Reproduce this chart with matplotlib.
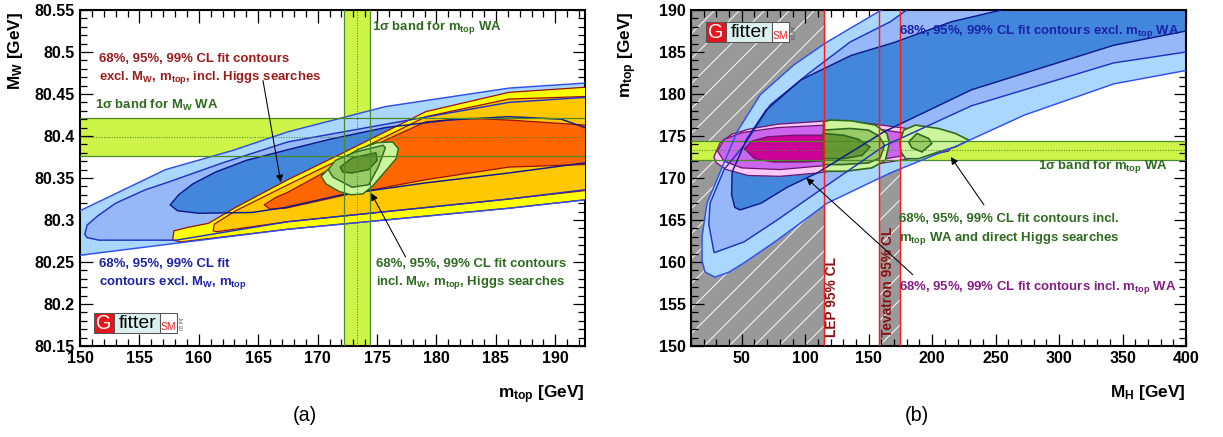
import matplotlib
matplotlib.use('Agg')
import matplotlib.pyplot as plt
from matplotlib.patches import Polygon, Rectangle
from matplotlib.ticker import MultipleLocator, FuncFormatter

plt.rcParams['font.family'] = ['Liberation Sans', 'DejaVu Sans']
plt.rcParams['font.weight'] = 'bold'
plt.rcParams['axes.labelweight'] = 'bold'
plt.rcParams['mathtext.fontset'] = 'custom'
plt.rcParams['mathtext.rm'] = 'Liberation Sans:bold'
plt.rcParams['mathtext.bf'] = 'Liberation Sans:bold'
plt.rcParams['mathtext.it'] = 'Liberation Sans:bold'
plt.rcParams['hatch.color'] = 'white'
plt.rcParams['hatch.linewidth'] = 0.45

# %% world averages / limits
mtop_wa = 173.3
mtop_err = 1.1
mw_wa = 80.399
mw_err = 0.023
lep_limit = 114.4
tev_limits = [158, 175]

# %% panel (a): M_W vs m_top, contours excl. M_W, m_top (blue)
a_blue99_x = [147, 150, 157.2, 162.9, 167.5, 175.7, 186.1, 192.5, 196, 196, 192.5, 186.1, 167.5, 150, 147]
a_blue99_y = [80.29, 80.311, 80.360, 80.383, 80.405, 80.435, 80.457, 80.463, 80.465,
              80.32, 80.324, 80.314, 80.289, 80.258, 80.253]
a_blue95_x = [150.4, 150.6, 151.5, 153, 155.5, 157.2, 162, 167.5, 175.7, 186.1, 192.5, 196,
              196, 192.5, 186.1, 167.5, 158.1, 151.6, 150.6]
a_blue95_y = [80.283, 80.294, 80.305, 80.320, 80.336, 80.344, 80.368, 80.393, 80.414, 80.440, 80.446, 80.447,
              80.33, 80.336, 80.325, 80.298, 80.276, 80.276, 80.279]
a_blue68_x = [157.6, 158.3, 159.5, 161.4, 164, 167.3, 171, 175.7, 181, 186.1, 190.5, 192.5, 193.5,
              192.5, 186.1, 179, 172, 167.3, 164.5, 160, 158.2]
a_blue68_y = [80.318, 80.330, 80.343, 80.357, 80.371, 80.383, 80.396, 80.410, 80.419, 80.423, 80.420, 80.41, 80.39,
              80.368, 80.356, 80.344, 80.330, 80.315, 80.309, 80.308, 80.311]

# contours excl. M_W, m_top, incl. Higgs searches (yellow / orange)
a_or99_x = [157.8, 157.9, 159, 160.8, 163.1, 167.5, 172, 179.1, 186.1, 192.5, 195,
            195, 192.5, 186.1, 167.5, 158.5]
a_or99_y = [80.276, 80.287, 80.291, 80.296, 80.315, 80.348, 80.379, 80.429, 80.452, 80.458, 80.46,
            80.32, 80.324, 80.314, 80.289, 80.274]
a_or95_x = [161.2, 161.3, 163.1, 167.5, 172, 179.1, 186.1, 192.5, 195,
            195, 192.5, 186.1, 167.5, 161.5]
a_or95_y = [80.287, 80.295, 80.311, 80.342, 80.373, 80.423, 80.444, 80.447, 80.45,
            80.33, 80.335, 80.325, 80.298, 80.286]
a_or68_x = [165.5, 166.5, 167.5, 172, 175.7, 179.1, 182.8, 186.1, 192.5, 194,
            192.5, 186.1, 179.1, 172.4, 167.3, 166]
a_or68_y = [80.318, 80.327, 80.333, 80.368, 80.395, 80.417, 80.421, 80.419, 80.413, 80.39,
            80.366, 80.363, 80.348, 80.330, 80.314, 80.313]

# full fit incl. M_W, m_top, Higgs searches (green)
a_gr99_x = [170.3, 171.0, 172.0, 173.4, 175.0, 176.3, 176.8, 176.6, 175.7, 174.6, 173.8, 172.8, 171.8, 170.7]
a_gr99_y = [80.352, 80.362, 80.372, 80.384, 80.392, 80.393, 80.385, 80.373, 80.358, 80.340, 80.331, 80.330, 80.334, 80.343]
a_gr95_x = [170.9, 171.5, 173.2, 175.5, 175.7, 175.1, 174.3, 172.9, 171.3]
a_gr95_y = [80.36, 80.371, 80.381, 80.389, 80.386, 80.363, 80.342, 80.339, 80.351]
a_gr68_x = [171.9, 172.9, 174.9, 175.0, 174.3, 172.9, 172.1]
a_gr68_y = [80.363, 80.374, 80.380, 80.371, 80.360, 80.356, 80.357]

# %% panel (b): m_top vs M_H
b_blue99_x = [21, 28.9, 40, 51.8, 77.9, 117.3, 167, 220.7, 272.8, 343, 400, 420,
              420, 230, 200, 160, 117.3, 91.3, 64.5, 46.3, 32.9, 22.6, 18.7, 18.7]
b_blue99_y = [158.8, 158.2, 158.8, 159.9, 162.6, 167.0, 170.6, 173.9, 177.5, 181.2, 182.8, 183.5,
              210, 210, 194, 190, 186.2, 183.5, 179.9, 175.5, 170.7, 167.0, 163.0, 160.2]
b_blue95_x = [28.2, 51.8, 77.9, 115, 162, 231, 343, 400, 420,
              420, 200, 180, 167, 135.5, 104, 72.4, 51.8, 36, 25, 24]
b_blue95_y = [161.1, 162.4, 165, 168.9, 173.8, 178.6, 183.7, 185, 185.5,
              210, 210, 190, 188.6, 186.2, 182.6, 178.7, 173.9, 171, 167, 164.5]
b_blue68_x = [48.7, 65.2, 85.8, 109.4, 162, 231, 343, 400, 420,
              420, 280, 254.7, 215.2, 169.4, 136.3, 96.8, 69.2, 53.4, 42.4, 42, 44.5]
b_blue68_y = [166.2, 167.0, 168.9, 170.6, 175.5, 180.5, 185.8, 187.5, 188,
              210, 210, 190, 188.6, 186.1, 184.6, 181.7, 178.1, 174.5, 170.7, 168, 166.5]

b_mag99_x = [28, 33, 42, 55, 78, 117, 150, 185, 210, 218, 213, 190, 150, 110, 80, 55, 38, 30]
b_mag99_y = [172.5, 174.2, 175.2, 175.8, 176.4, 176.8, 176.5, 175.8, 175, 174.2, 173.2, 172.5, 171.5, 170.6,
             170.2, 170.3, 171, 171.8]
b_mag95_x = [31, 36, 50, 78, 117, 150, 180, 195, 190, 160, 117, 80, 50, 36]
b_mag95_y = [173.2, 174.6, 175.4, 176.0, 176.3, 176.0, 175.3, 174.3, 173.0, 172.2, 171.5, 171.0, 171.2, 172]
b_mag68_x = [52, 58, 70, 92, 117, 140, 155, 150, 130, 100, 75, 60]
b_mag68_y = [173.5, 174.4, 174.9, 175.1, 175.1, 174.8, 174.0, 173.0, 172.2, 171.9, 171.9, 172.3]

b_grA99_x = [114.4, 120, 136.7, 155.2, 164.4, 166.3, 163.1, 152.5, 131.5, 114.4]
b_grA99_y = [176.7, 176.9, 176.8, 176.3, 175.3, 174.1, 172.1, 171.2, 170.8, 170.8]
b_grA95_x = [114.4, 135, 150, 158, 162.5, 159, 150, 130, 114.4]
b_grA95_y = [175.7, 175.9, 175.7, 175.0, 173.9, 172.4, 171.8, 171.6, 171.6]
b_grA68_x = [114.4, 130, 142, 151, 145, 130, 114.4]
b_grA68_y = [175.3, 175.1, 174.6, 173.7, 172.7, 172.3, 172.3]
b_grB99_x = [174.5, 177.6, 186.8, 205, 218.4, 229, 218.4, 205, 189.4, 179, 175.5]
b_grB99_y = [174.3, 175.7, 176.3, 175.9, 175.3, 174.5, 173.7, 173.1, 172.3, 172.3, 173.1]
b_grB95_x = [181.5, 188, 197.3, 199.7, 192, 184]
b_grB95_y = [174.3, 175.3, 174.7, 174.1, 173.1, 173.6]

# %% colours
band_col = '#cdf448'
band_line = '#4a8a2a'
blue_fc = ['#aad7ff', '#96b8f8', '#4287dc']
blue_ec = ['#2f4ff0', '#1f33c0', '#0d1a8c']
orange_fc = ['#ffff00', '#ffc800', '#ff6600']
orange_ec = '#9a1010'
green_fc = ['#cdf59e', '#99cc66', '#669933']
green_ec = '#2e6b1e'
mag_fc = ['#fcc8f8', '#cc66ee', '#cc0099']
mag_ec = '#6e146e'
txt_red = '#9e1a1a'
txt_blue = '#1c22a8'
txt_green = '#2d6a1f'
txt_purple = '#861c86'


def region(ax, x, y, fc, ec, lw, zf, zl):
    ax.add_patch(Polygon(list(zip(x, y)), closed=True, facecolor=fc, edgecolor='none', zorder=zf))
    ax.add_patch(Polygon(list(zip(x, y)), closed=True, facecolor='none', edgecolor=ec, lw=lw, zorder=zl))


def gfitter_logo(ax, x0, y0, w, h):
    parts = [(0.0, 0.24, '#e8141c'), (0.24, 0.80, '#dcefef'), (0.80, 1.0, 'white')]
    for a, b, c in parts:
        ax.add_patch(Rectangle((x0 + a * w, y0), (b - a) * w, h, transform=ax.transAxes,
                               facecolor=c, edgecolor='#555555', lw=0.5, zorder=20))
    kw = dict(transform=ax.transAxes, ha='center', va='center', fontweight='normal', zorder=21)
    ax.text(x0 + 0.12 * w, y0 + 0.48 * h, 'G', color='white', fontsize=9.5, **kw)
    ax.text(x0 + 0.52 * w, y0 + 0.48 * h, 'fitter', color='black', fontsize=9.3, **kw)
    ax.text(x0 + 0.90 * w, y0 + 0.30 * h, 'SM', color='#ee2222', fontsize=5, **kw)
    ax.text(x0 + 1.035 * w, y0 + 0.5 * h, 'Jul 10', color='#444444', fontsize=2.3, rotation=-90, **kw)


def style_axes(ax):
    ax.tick_params(which='both', direction='in', top=True, right=True, width=0.6, labelsize=7.7, pad=2.5)
    ax.tick_params(which='major', length=6)
    ax.tick_params(which='minor', length=3.3)
    for s in ax.spines.values():
        s.set_linewidth(1.0)


fig = plt.figure(figsize=(1223 / 150, 437 / 150), dpi=150)
axa = fig.add_axes([80 / 1223, 91 / 437, 505 / 1223, 336 / 437])
axb = fig.add_axes([691 / 1223, 91 / 437, 495 / 1223, 336 / 437])

# %% panel (a)
ax = axa
ax.set_xlim(150, 192.5)
ax.set_ylim(80.15, 80.55)
ax.axvspan(mtop_wa - mtop_err, mtop_wa + mtop_err, facecolor=band_col, edgecolor='none', zorder=1)
ax.axhspan(mw_wa - mw_err, mw_wa + mw_err, facecolor=band_col, edgecolor='none', zorder=1)
for i, (x, y) in enumerate([(a_blue99_x, a_blue99_y), (a_blue95_x, a_blue95_y), (a_blue68_x, a_blue68_y)]):
    region(ax, x, y, blue_fc[i], blue_ec[i], 0.7, 2, 4.5)
for i, (x, y) in enumerate([(a_or99_x, a_or99_y), (a_or95_x, a_or95_y), (a_or68_x, a_or68_y)]):
    region(ax, x, y, orange_fc[i], orange_ec, 0.6, 3 + 0.1 * i, 3.5 + 0.1 * i)
for i, (x, y) in enumerate([(a_gr99_x, a_gr99_y), (a_gr95_x, a_gr95_y), (a_gr68_x, a_gr68_y)]):
    region(ax, x, y, green_fc[i], green_ec, 0.7, 5 + 0.1 * i, 5.05 + 0.1 * i)
for v in (mtop_wa - mtop_err, mtop_wa + mtop_err):
    ax.axvline(v, color=band_line, lw=0.6, zorder=6)
ax.axvline(mtop_wa, color=band_line, lw=0.5, ls=(0, (1, 1.5)), zorder=6)
for v in (mw_wa - mw_err, mw_wa + mw_err):
    ax.axhline(v, color=band_line, lw=0.6, zorder=6)
ax.axhline(mw_wa, color=band_line, lw=0.5, ls=(0, (1, 1.5)), zorder=6)

ax.xaxis.set_major_locator(MultipleLocator(5))
ax.xaxis.set_minor_locator(MultipleLocator(1))
ax.yaxis.set_major_locator(MultipleLocator(0.05))
ax.yaxis.set_minor_locator(MultipleLocator(0.01))
ax.yaxis.set_major_formatter(FuncFormatter(lambda v, p: f'{round(v, 3):g}'))
style_axes(ax)
ax.set_xlabel(r'$\mathbf{m_{top}}$ [GeV]', fontsize=8.3, loc='right')
ax.xaxis.set_label_coords(1.0, -0.11)
ax.set_ylabel(r'$\mathbf{M_{W}}$ [GeV]', fontsize=8.3, loc='top')
ax.yaxis.set_label_coords(-0.108, 0.995)

ax.text(174.6, 80.529, r'1σ band for $\mathbf{m_{top}}$ WA', color=txt_green, fontsize=6.3, va='center', zorder=10)
ax.text(151.3, 80.436, r'1σ band for $\mathbf{M_{W}}$ WA', color=txt_green, fontsize=6.3, va='center', zorder=10)
ax.text(151.6, 80.499, '68%, 95%, 99% CL fit contours\n' + r'excl. $\mathbf{M_{W}}$, $\mathbf{m_{top}}$, incl. Higgs searches',
        color=txt_red, fontsize=6.3, va='top', linespacing=1.35, zorder=10)
ax.text(151.6, 80.255, '68%, 95%, 99% CL fit\n' + r'contours excl. $\mathbf{M_{W}}$, $\mathbf{m_{top}}$',
        color=txt_blue, fontsize=6.3, va='top', linespacing=1.35, zorder=10)
ax.text(174.9, 80.255, '68%, 95%, 99% CL fit contours\n' + r'incl. $\mathbf{M_{W}}$, $\mathbf{m_{top}}$, Higgs searches',
        color=txt_green, fontsize=6.3, va='top', linespacing=1.35, zorder=10)
arrow = dict(arrowstyle='-|>', color='black', lw=0.5, mutation_scale=7, shrinkA=0, shrinkB=0)
ax.annotate('', xy=(166.9, 80.345), xytext=(165.4, 80.466), arrowprops=arrow, zorder=10)
ax.annotate('', xy=(174.5, 80.332), xytext=(177.4, 80.256), arrowprops=arrow, zorder=10)
gfitter_logo(ax, 0.028, 0.039, 0.164, 0.059)

# %% panel (b)
ax = axb
ax.set_xlim(10, 400)
ax.set_ylim(150, 190)
ax.axvspan(10, lep_limit, facecolor='#999999', edgecolor='white', lw=0, hatch='//', zorder=0.5)
ax.axvspan(tev_limits[0], tev_limits[1], facecolor='#999999', edgecolor='white', lw=0, hatch='//', zorder=0.5)
ax.axhspan(mtop_wa - mtop_err, mtop_wa + mtop_err, facecolor=band_col, edgecolor='none', zorder=1)
for i, (x, y) in enumerate([(b_blue99_x, b_blue99_y), (b_blue95_x, b_blue95_y), (b_blue68_x, b_blue68_y)]):
    region(ax, x, y, blue_fc[i], blue_ec[i], 0.7, 2 + 0.1 * i, 7 + 0.1 * i)
for i, (x, y) in enumerate([(b_mag99_x, b_mag99_y), (b_mag95_x, b_mag95_y), (b_mag68_x, b_mag68_y)]):
    region(ax, x, y, mag_fc[i], mag_ec, 0.6, 3 + 0.1 * i, 3.05 + 0.1 * i)
for i, (x, y) in enumerate([(b_grA99_x, b_grA99_y), (b_grA95_x, b_grA95_y), (b_grA68_x, b_grA68_y)]):
    region(ax, x, y, green_fc[i], green_ec, 0.8, 5 + 0.1 * i, 5.05 + 0.1 * i)
for i, (x, y) in enumerate([(b_grB99_x, b_grB99_y), (b_grB95_x, b_grB95_y)]):
    region(ax, x, y, green_fc[i], green_ec, 0.8, 5 + 0.1 * i, 5.05 + 0.1 * i)
for v in (mtop_wa - mtop_err, mtop_wa + mtop_err):
    ax.axhline(v, color=band_line, lw=0.6, zorder=6)
ax.axhline(mtop_wa, color=band_line, lw=0.5, ls=(0, (1, 1.5)), zorder=6)
for v in [lep_limit] + tev_limits:
    ax.axvline(v, color='#ff1a1a', lw=0.7, zorder=8)

ax.xaxis.set_major_locator(MultipleLocator(50))
ax.xaxis.set_minor_locator(MultipleLocator(10))
ax.yaxis.set_major_locator(MultipleLocator(5))
ax.yaxis.set_minor_locator(MultipleLocator(1))
style_axes(ax)
ax.set_xlabel(r'$\mathbf{M_{H}}$ [GeV]', fontsize=8.3, loc='right')
ax.xaxis.set_label_coords(1.0, -0.11)
ax.set_ylabel(r'$\mathbf{m_{top}}$ [GeV]', fontsize=8.3, loc='top')
ax.yaxis.set_label_coords(-0.105, 0.995)

ax.text(173.6, 187.4, r'68%, 95%, 99% CL fit contours excl. $\mathbf{m_{top}}$ WA', color=txt_blue,
        fontsize=6.3, va='center', zorder=10)
ax.text(283.5, 171.4, r'1σ band for $\mathbf{m_{top}}$ WA', color=txt_green, fontsize=6.3, va='center', zorder=10)
ax.text(173.6, 165.8, '68%, 95%, 99% CL fit contours incl.\n' + r'$\mathbf{m_{top}}$ WA and direct Higgs searches',
        color=txt_green, fontsize=6.3, va='top', linespacing=1.45, zorder=10)
ax.text(173.6, 157.0, r'68%, 95%, 99% CL fit contours incl. $\mathbf{m_{top}}$ WA', color=txt_purple,
        fontsize=6.3, va='center', zorder=10)
ax.text(120.7, 151.1, 'LEP 95% CL', color='#8b1111', fontsize=6.6, rotation=90, ha='center', va='bottom', zorder=10)
ax.text(165.5, 151.1, 'Tevatron 95% CL', color='#8b1111', fontsize=6.6, rotation=90, ha='center', va='bottom', zorder=10)
ax.annotate('', xy=(100.9, 170.0), xytext=(184.7, 158.5), arrowprops=arrow, zorder=10)
ax.annotate('', xy=(214.7, 172.5), xytext=(240.8, 166.8), arrowprops=arrow, zorder=10)
gfitter_logo(ax, 0.030, 0.905, 0.168, 0.059)

fig.text(305 / 1223, 1 - 415 / 437, '(a)', fontsize=9.5, fontweight='normal', ha='center', va='center')
fig.text(917 / 1223, 1 - 415 / 437, '(b)', fontsize=9.5, fontweight='normal', ha='center', va='center')

fig.savefig('out.png', dpi=150)
